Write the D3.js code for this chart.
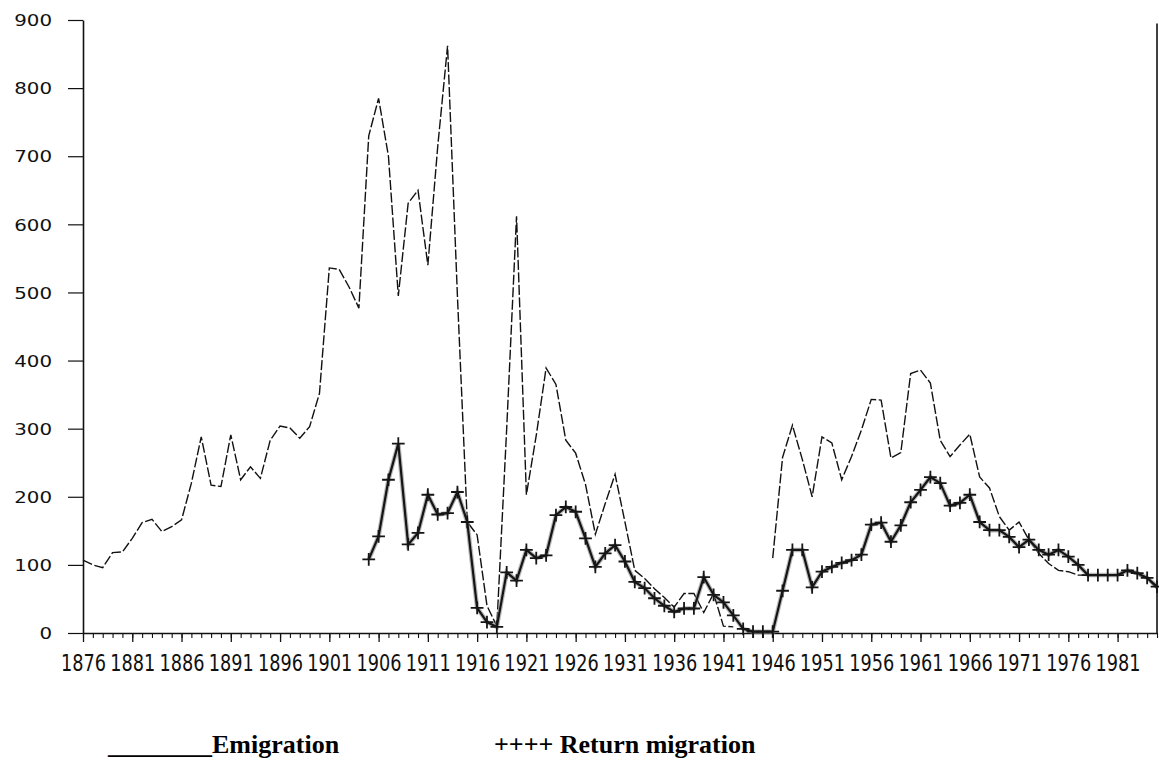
<!DOCTYPE html>
<html>
<head>
<meta charset="utf-8">
<script src="https://cdn.jsdelivr.net/npm/d3@7/dist/d3.min.js"></script>
<style>
  body { margin: 0; background: #fff; }
  svg { display: block; }
</style>
</head>
<body>
<svg width="1159" height="769"></svg>
<script>
// years 1876 - 1985
const years = [
  1876,1877,1878,1879,1880,1881,1882,1883,1884,1885,
  1886,1887,1888,1889,1890,1891,1892,1893,1894,1895,
  1896,1897,1898,1899,1900,1901,1902,1903,1904,1905,
  1906,1907,1908,1909,1910,1911,1912,1913,1914,1915,
  1916,1917,1918,1919,1920,1921,1922,1923,1924,1925,
  1926,1927,1928,1929,1930,1931,1932,1933,1934,1935,
  1936,1937,1938,1939,1940,1941,1942,1943,1944,1945,
  1946,1947,1948,1949,1950,1951,1952,1953,1954,1955,
  1956,1957,1958,1959,1960,1961,1962,1963,1964,1965,
  1966,1967,1968,1969,1970,1971,1972,1973,1974,1975,
  1976,1977,1978,1979,1980,1981,1982,1983,1984,1985
];

// emigration, one value per year above (null = no data)
const emigration = [
  107,100, 96,118,119,139,162,167,149,156,
  166,220,288,217,215,291,225,244,227,283,
  304,301,286,303,352,536,534,508,477,730,
  785,700,495,631,650,540,714,862,495,163,
  144, 40, 10,300,612,203,290,389,365,283,
  264,218,145,190,233,163, 92, 80, 65, 52,
   38, 58, 58, 30, 58, 10,  9,null,null,null,
  110,258,305,255,200,288,279,225,259,298,
  343,342,257,265,381,386,367,283,259,276,
  292,229,213,171,151,163,137,117,102, 92,
   90, 85, 85, 85, 85, 86, 90, 86, 80, 65
];

// return migration, starts 1905
const returnYears = years.slice(29);
const returnMigration = [
  108,
  142,225,278,130,147,203,174,176,207,163,
   37, 16,  9, 89, 77,122,110,114,173,185,
  178,139, 97,117,129,105, 75, 66, 51, 40,
   31, 36, 36, 82, 56, 45, 26,  6,  2,  2,
    2, 62,122,122, 67, 90, 97,103,107,115,
  159,162,134,158,192,210,229,220,187,191,
  203,163,151,151,141,126,137,122,115,122,
  112,100, 85, 85, 85, 85, 92, 88, 81, 68
];

const yTicks = [0,100,200,300,400,500,600,700,800,900];
const xLabels = [1876,1881,1886,1891,1896,1901,1906,1911,1916,1921,1926,1931,
                 1936,1941,1946,1951,1956,1961,1966,1971,1976,1981];

const svg = d3.select('svg');
const margin = { top: 20, left: 83, right: 2, bottom: 136 };
const width = +svg.attr('width');
const height = +svg.attr('height');
const innerBottom = height - margin.bottom;

const x = d3.scaleLinear()
  .domain([1876, 1985])
  .range([margin.left, width - margin.right]);
const y = d3.scaleLinear()
  .domain([0, 900])
  .range([innerBottom, margin.top]);

// y axis
const ySx = 1.24;
const yAxis = svg.append('g')
  .attr('transform', `translate(${margin.left},0)`)
  .call(d3.axisLeft(y).tickValues(yTicks).tickSize(15).tickSizeOuter(0));
yAxis.select('.domain').attr('stroke', '#111').attr('stroke-width', 1.6);
yAxis.selectAll('.tick line').attr('stroke', '#111').attr('stroke-width', 1.2);
yAxis.selectAll('text')
  .attr('font-family', 'DejaVu Sans')
  .attr('font-size', 16)
  .attr('fill', '#111')
  .attr('x', -31 / ySx)
  .attr('dy', '0.36em')
  .attr('transform', `scale(${ySx},1)`);

// x axis: yearly minor ticks, labelled every 5 years
const xMinor = svg.append('g')
  .attr('transform', `translate(0,${innerBottom})`)
  .call(d3.axisBottom(x).tickValues(years).tickSize(5).tickFormat('').tickSizeOuter(0));
xMinor.select('.domain').attr('stroke', '#111').attr('stroke-width', 1.6);
xMinor.selectAll('.tick line').attr('stroke', '#111').attr('stroke-width', 1.1);

const xSx = 0.77;
const xMajor = svg.append('g')
  .attr('transform', `translate(0,${innerBottom})`)
  .call(d3.axisBottom(x).tickValues(xLabels).tickSize(9).tickPadding(13)
    .tickFormat(d3.format('d')).tickSizeOuter(0));
xMajor.select('.domain').remove();
xMajor.selectAll('.tick line').attr('stroke', '#111').attr('stroke-width', 1.3);
xMajor.selectAll('text')
  .attr('font-family', 'DejaVu Sans')
  .attr('font-size', 23)
  .attr('fill', '#111')
  .attr('transform', `scale(${xSx},1)`);

// right frame edge
svg.append('line')
  .attr('x1', x(1985)).attr('x2', x(1985))
  .attr('y1', y(895)).attr('y2', y(0))
  .attr('stroke', '#111').attr('stroke-width', 1.6);

// emigration line
const emLine = d3.line()
  .defined(d => d[1] !== null)
  .x(d => x(d[0]))
  .y(d => y(d[1]));

svg.append('path')
  .datum(years.map((yr, i) => [yr, emigration[i]]))
  .attr('fill', 'none')
  .attr('stroke', '#111')
  .attr('stroke-width', 1.4)
  .attr('stroke-dasharray', '10 2.5')
  .attr('d', emLine);

// return migration line
const retData = returnYears.map((yr, i) => [yr, returnMigration[i]]);
const retLine = d3.line().x(d => x(d[0])).y(d => y(d[1]));

svg.append('path')
  .datum(retData)
  .attr('fill', 'none')
  .attr('stroke', '#888')
  .attr('stroke-opacity', 0.6)
  .attr('stroke-width', 4.5)
  .attr('d', retLine);
svg.append('path')
  .datum(retData)
  .attr('fill', 'none')
  .attr('stroke', '#151515')
  .attr('stroke-width', 2.2)
  .attr('d', retLine);

svg.append('g')
  .selectAll('path')
  .data(retData)
  .enter().append('path')
    .attr('transform', d => `translate(${x(d[0])},${y(d[1])})`)
    .attr('d', d3.symbol(d3.symbolPlus, 55))
    .attr('fill', 'none')
    .attr('stroke', '#151515')
    .attr('stroke-width', 1.8);

// legend
const legend = svg.append('g')
  .attr('font-family', 'Liberation Serif')
  .attr('font-weight', 'bold')
  .attr('font-size', 26)
  .attr('fill', '#000');
legend.append('text').attr('x', 108).attr('y', 753).text('________Emigration');
legend.append('text').attr('x', 494).attr('y', 753).text('++++ Return migration');
</script>
</body>
</html>
